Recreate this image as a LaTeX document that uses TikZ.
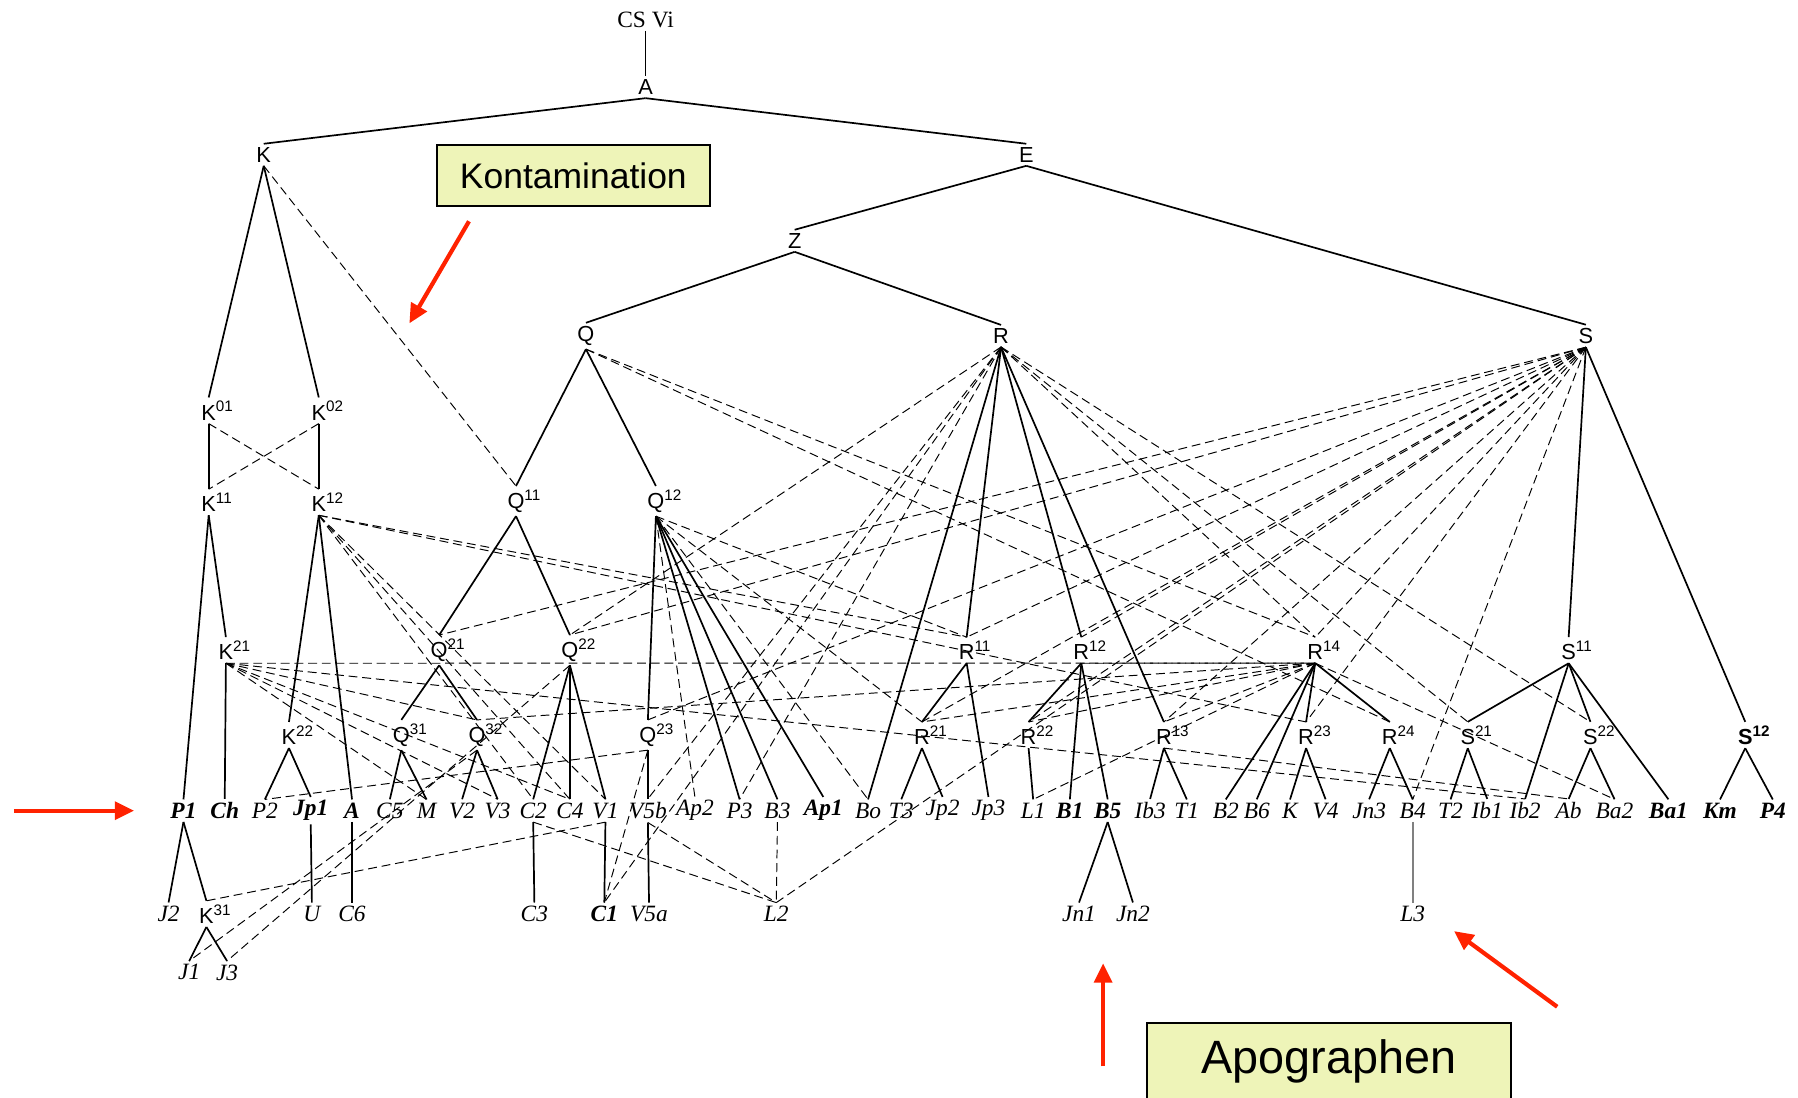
\documentclass[tikz,border=0pt]{standalone}
\usepackage{fontspec}
\setmainfont{Liberation Serif}
\setsansfont{Liberation Sans}
\usetikzlibrary{arrows.meta}
\definecolor{notefill}{RGB}{238,244,184}
\definecolor{hintred}{RGB}{255,34,0}
\newcommand{\hy}[2]{#1\rlap{\textsuperscript{#2}}}

\begin{document}
\begin{tikzpicture}[x=0.025cm,y=-0.025cm,
    hyp/.style={font=\sffamily\fontsize{13.5}{13.5}\selectfont,inner sep=2pt},
    msn/.style={font=\rmfamily\itshape\fontsize{14.5}{14.5}\selectfont,inner sep=2pt},
    msb/.style={font=\rmfamily\itshape\bfseries\fontsize{14.5}{14.5}\selectfont,inner sep=2pt},
    stem/.style={line width=1.05pt},
    contam/.style={line width=0.6pt,dash pattern=on 5.5pt off 3pt},
    note/.style={draw,line width=1pt,fill=notefill,font=\sffamily},
    hint/.style={draw=hintred,line width=2.6pt,-{Triangle[length=12pt,width=11pt]}}]
    \useasboundingbox (0,0) rectangle (1568,957);

    % hyparchetypes
    \node[msn,font=\rmfamily\fontsize{14.5}{14.5}\selectfont] (CSVi) at (563,17) {CS Vi};
    \foreach \n/\b/\s/\x/\y in {A/A//563/76, K/K//230/135, E/E//895/135, Z/Z//693/210,
        Q/Q//511/293, R/R//873/293, S/S//1383/293,
        K01/K/01/182/358, K02/K/02/278/358, K11/K/11/182/438, K12/K/12/278/438,
        Q11/Q/11/450/437, Q12/Q/12/572/437,
        K21/K/21/197/567, Q21/Q/21/383/567, Q22/Q/22/497/567, R11/R/11/843/567,
        R12/R/12/943/567, R14/R/14/1147/567, S11/S/11/1368/567,
        K22/K/22/252/641, Q31/Q/31/350/641, Q32/Q/32/416/641, Q23/Q/23/565/641,
        R21/R/21/804/641, R22/R/22/897/641, R13/R/13/1015/641, R23/R/23/1139/641,
        R24/R/24/1212/641, S21/S/21/1280/641, S22/S/22/1387/641, K31/K/31/180/797}
        \node[hyp] (\n) at (\x,\y) {\hy{\b}{\s}};
    \node[hyp,font=\sffamily\bfseries\fontsize{13.5}{13.5}\selectfont] (S12) at (1522,641) {\hy{S}{12}};

    % manuscripts
    \foreach \n/\x/\f in {P1/160/b, Ch/196/b, P2/231/n, Jp1/271/b, A/307/b, C5/340/n,
        M/372/n, V2/403/n, V3/434/n, C2/465/n, C4/497/n, V1/528/n, V5b/565/n,
        Ap2/606/n, P3/645/n, B3/678/n, Ap1/718/b, Bo/757/n, T3/786/n, Jp2/822/n,
        Jp3/862/n, L1/901/n, B1/933/b, B5/966/b, Ib3/1003/n, T1/1035/n, B2/1069/n,
        B6/1096/n, K/1125/n, V4/1156/n, Jn3/1194/n, B4/1232/n, T2/1265/n,
        Ib1/1297/n, Ib2/1330/n, Ab/1368/n, Ba2/1408/n, Ba1/1455/b, Km/1500/b, P4/1546/b}
        \node[ms\f] (m\n) at (\x,707) {\n};
    \foreach \n/\x/\f in {J2/147/n, U/272/n, C6/307/n, C3/466/n, C1/527/b, V5a/566/n,
        L2/677/n, Jn1/941/n, Jn2/988/n, L3/1232/n}
        \node[ms\f] (m\n) at (\x,797) {\n};
    \node[msn] (mJ1) at (165,848) {J1};
    \node[msn] (mJ3) at (198,848) {J3};

    % descent
    \foreach \a/\b in {CSVi/A, A/K, A/E, E/Z, E/S, Z/Q, Z/R, K/K01, K/K02, K01/K11, K02/K12,
        Q/Q11, Q/Q12, K11/mP1, K11/K21, K21/mCh, K12/K22, K12/mA, K22/mP2, K22/mJp1,
        Q11/Q21, Q11/Q22, Q21/Q31, Q21/Q32, Q31/mC5, Q31/mM, Q32/mV2, Q32/mV3,
        Q22/mC2, Q22/mC4, Q22/mV1, Q12/Q23, Q12/mP3, Q12/mB3, Q12/mAp1, Q23/mV5b,
        R/mBo, R/R11, R/R12, R/R13, R11/R21, R11/mJp3, R21/mT3, R21/mJp2,
        R12/R22, R12/mB1, R12/mB5, R22/mL1, R13/mIb3, R13/mT1,
        R14/R23, R14/mB2, R14/mB6, R14/R24, R23/mK, R23/mV4, R24/mJn3, R24/mB4,
        S/S11, S/S12, S11/S21, S11/mIb2, S11/S22, S11/mBa1, S21/mT2, S21/mIb1,
        S22/mAb, S22/mBa2, S12/mKm, S12/mP4,
        mP1/mJ2, mP1/K31, K31/mJ1, K31/mJ3, mJp1/mU, mA/mC6, mC2/mC3, mV1/mC1,
        mV5b/mV5a, mB5/mJn1, mB5/mJn2}
        \draw[stem] (\a.south) -- (\b.north);
    \draw[stem,gray] (mB4.south) -- (mL3.north);

    % contamination
    \foreach \a/\b in {K/Q11, K01/K12, K02/K11, K12/R11, K12/mC2, K12/mC4, K12/mV1, K12/R23,
        K21/Q32, K21/mM, K21/mV3, K21/mC4, K21/mIb2, Q/R14, Q/R24,
        Q12/mAp2, Q12/R11, Q12/R21, Q12/mBo, R/Q22, R/mC1, R/mP3, R/mV5b, R/R14, R/S21, R/S22,
        S/Q21, S/Q22, S/Q23, S/R11, S/R21, S/R12, S/R22, S/R13, S/R23, S/R14, S/mB4, S/mL2,
        R14/mBa2, R13/mAb, Q23/mP2, Q23/mC1, Q32/mJ1, Q22/mJ3, mV1/K31,
        mB3/mL2, mC2/mL2, mV5b/mL2, R14/mL1, R14/Q32, R14/R21, R14/R22, R14/R13}
        \draw[contam] (\a.south) -- (\b.north);
    \draw[contam] (K21.south) -- (R14.south);
    \draw[contam] (R12.south) -- (R14.south);

    % notes
    \node[note,minimum width=5.95cm,minimum height=1.325cm,font=\sffamily\fontsize{22}{22}\selectfont]
        (kont) at (500,153) {Kontamination};
    \node[note,minimum width=7.925cm,minimum height=1.7cm,font=\sffamily\fontsize{29}{29}\selectfont]
        (apo) at (1159,926) {Apographen};
    \coordinate (kontTail) at (409,193);
    \coordinate (kontTip) at (357,282);
    \coordinate (rowTail) at (12,707);
    \coordinate (rowTip) at (117,707);
    \coordinate (apoTail) at (962,930);
    \coordinate (apoTip) at (962,840);
    \coordinate (lTail) at (1358,878);
    \coordinate (lTip) at (1268,812);
    \draw[hint] (kontTail) -- (kontTip);
    \draw[hint] (rowTail) -- (rowTip);
    \draw[hint] (apoTail) -- (apoTip);
    \draw[hint] (lTail) -- (lTip);
\end{tikzpicture}
\end{document}
